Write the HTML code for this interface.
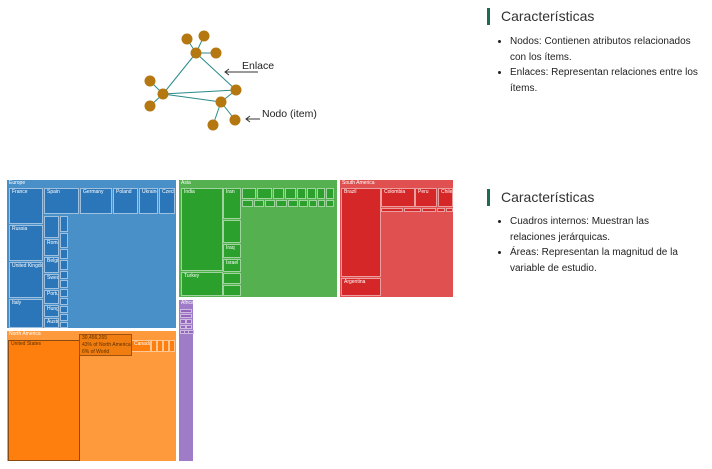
<!DOCTYPE html>
<html><head><meta charset="utf-8">
<style>
body{margin:0;width:712px;height:469px;background:#fff;position:relative;overflow:hidden;font-family:"Liberation Sans",sans-serif}
.b{position:absolute;box-sizing:border-box;border:1px solid rgba(255,255,255,.55);color:#fff;font-size:5px;line-height:7px;padding:0 2px;overflow:hidden;white-space:nowrap}
.t{position:absolute;font-size:14px;color:#333}
.bar{position:absolute;left:487px;width:3px;background:#1e6b52}
ul{position:absolute;left:496px;margin:0;padding:0 0 0 14px;font-size:10px;line-height:15.5px;color:#222;width:192px}
</style></head><body>
<svg width="340" height="150" style="position:absolute;left:0;top:0">
<g stroke="#2a8a8a" stroke-width="1">
<line x1="196" y1="53" x2="187" y2="39"/><line x1="196" y1="53" x2="204" y2="36"/><line x1="196" y1="53" x2="216" y2="53"/>
<line x1="196" y1="53" x2="163" y2="94"/><line x1="196" y1="53" x2="236" y2="90"/><line x1="163" y1="94" x2="150" y2="81"/>
<line x1="163" y1="94" x2="150" y2="106"/><line x1="163" y1="94" x2="236" y2="90"/><line x1="163" y1="94" x2="221" y2="102"/>
<line x1="236" y1="90" x2="221" y2="102"/><line x1="221" y1="102" x2="213" y2="125"/><line x1="221" y1="102" x2="235" y2="120"/>
</g>
<g fill="#b5770f">
<circle cx="187" cy="39" r="5.5"/><circle cx="204" cy="36" r="5.5"/><circle cx="196" cy="53" r="5.5"/><circle cx="216" cy="53" r="5.5"/>
<circle cx="150" cy="81" r="5.5"/><circle cx="163" cy="94" r="5.5"/><circle cx="150" cy="106" r="5.5"/><circle cx="236" cy="90" r="5.5"/>
<circle cx="221" cy="102" r="5.5"/><circle cx="213" cy="125" r="5.5"/><circle cx="235" cy="120" r="5.5"/>
</g>
<g stroke="#333" stroke-width="1" fill="none">
<line x1="258" y1="72" x2="225" y2="72"/><polyline points="229,69 225,72 229,75"/>
<line x1="260" y1="119" x2="246" y2="119"/><polyline points="250,116 246,119 250,122"/>
</g>
<text x="242" y="69" font-size="10.5" fill="#222" font-family="Liberation Sans">Enlace</text>
<text x="262" y="117" font-size="10.5" fill="#222" font-family="Liberation Sans">Nodo (item)</text>
</svg>

<div class="bar" style="top:8px;height:17px"></div>
<div class="t" style="left:501px;top:8px">Características</div>
<ul style="top:34px"><li>Nodos: Contienen atributos relacionados con los ítems.</li><li>Enlaces: Representan relaciones entre los ítems.</li></ul>
<div class="bar" style="top:189px;height:17px"></div>
<div class="t" style="left:501px;top:189px">Características</div>
<ul style="top:214px;width:180px"><li>Cuadros internos: Muestran las relaciones jerárquicas.</li><li>Áreas: Representan la magnitud de la variable de estudio.</li></ul>

<div id="tm"></div>
<script>
// [label, x, y, w, h, color]
const regions=[
["Europe",6,179,171,150,"#4a90c8"],["Asia",178,179,160,119,"#55b04f"],["South America",339,179,115,119,"#e05050"],
["North America",6,330,171,132,"#ff9a3c"],["Africa",178,299,16,163,"#a07cc8"]];
const E="#2a76b8",A="#2ca02c",S="#d62728",N="#ff7f0e",F="#9467bd";
const cells=[
["France",9,188,34,36,E],["Russia",9,225,34,36,E],["United Kingdom",9,262,34,36,E],["Italy",9,299,34,29,E],
["Spain",44,188,35,26,E],["Germany",80,188,32,26,E],["Poland",113,188,25,26,E],["Ukraine",139,188,19,26,E],["Czechia",159,188,16,26,E],
["",44,216,15,22,E],["Romania",44,239,15,17,E],["Belgium",44,257,15,16,E],["Sweden",44,274,15,15,E],["Portugal",44,290,15,14,E],["Hungary",44,305,15,12,E],["Austria",44,318,15,10,E],
["",60,216,8,16,E],["",60,233,8,15,E],["",60,249,8,10,E],["",60,260,8,10,E],["",60,271,8,8,E],["",60,280,8,8,E],["",60,289,8,8,E],["",60,298,8,7,E],["",60,306,8,7,E],["",60,314,8,7,E],["",60,322,8,6,E],
["India",181,188,42,83,A],["Turkey",181,272,42,24,A],["Iran",223,188,18,31,A],["",223,220,18,23,A],["Iraq",223,244,18,14,A],["Israel",223,259,18,13,A],["",223,273,18,11,A],["",223,285,18,11,A],
["",242,188,14,11,A],["",257,188,15,11,A],["",273,188,11,11,A],["",285,188,11,11,A],["",297,188,9,11,A],["",307,188,9,11,A],["",317,188,8,11,A],["",326,188,8,11,A],
["",242,200,11,7,A],["",254,200,10,7,A],["",265,200,10,7,A],["",276,200,11,7,A],["",288,200,10,7,A],["",299,200,9,7,A],["",309,200,8,7,A],["",318,200,7,7,A],["",326,200,8,7,A],
["Brazil",341,188,40,89,S],["Argentina",341,278,40,18,S],["Colombia",381,188,34,19,S],["Peru",415,188,22,19,S],["Chile",438,188,15,19,S],
["",381,208,22,4,S],["",404,208,17,4,S],["",422,208,14,4,S],["",437,208,8,4,S],["",446,208,7,4,S],
["United States",8,340,72,121,N],["Canada",131,340,20,12,N],["",151,340,5,12,N],["",157,340,5,12,N],["",163,340,5,12,N],["",169,340,6,12,N],
["",180,309,12,4,F],["",180,314,12,4,F],["",180,319,6,5,F],["",186,319,6,5,F],["",180,325,6,4,F],["",186,325,6,4,F],["",180,330,4,4,F],["",184,330,4,4,F],["",188,330,4,4,F]];
const tm=document.getElementById('tm');
regions.forEach(r=>{
 const d=document.createElement('div');
 
 
 d.className='b';d.style.cssText=`left:${r[1]}px;top:${r[2]}px;width:${r[3]}px;height:${r[4]}px;background:${r[5]};border:1px solid #fff`;
 d.textContent=r[0];tm.appendChild(d);
});
cells.forEach(c=>{
 const d=document.createElement('div');
 
 
 d.className='b';d.style.cssText=`left:${c[1]}px;top:${c[2]}px;width:${c[3]}px;height:${c[4]}px;background:${c[5]}`;
 if(c[0]==="United States"){d.style.border='1px solid #8a4a10';d.style.color='#5a3000';}
 d.textContent=c[0];tm.appendChild(d);
});
const tip=document.createElement('div');


tip.className='b';tip.style.cssText='left:79px;top:334px;width:53px;height:22px;background:#f07d10;border:1px solid #a05010;color:#5a3000;font-size:5px;line-height:7px';
tip.innerHTML='30,456,265<br>43% of North America<br>6% of World';tm.appendChild(tip);
</script>
</body></html>
